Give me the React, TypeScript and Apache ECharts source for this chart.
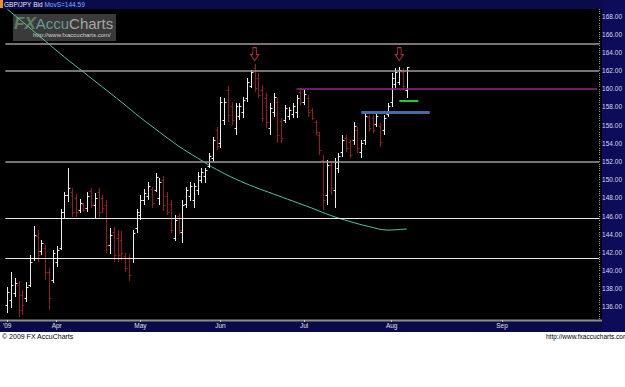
import React, { useEffect, useRef } from "react";
import * as echarts from "echarts";

const symbolName = "GBP/JPY Bid ";
const maLabel = "MovS=144.59";
const lastPrice = 162.35;
const futureDays = 50;

const opens = [136.21,136.76,137.53,138.41,137.31,136.98,138.41,141.38,143.80,142.15,
142.48,139.84,138.96,140.94,142.48,146.44,148.31,148.64,147.98,146.66,
147.32,146.88,148.75,147.21,148.64,147.98,147.21,142.81,144.24,143.58,
143.36,141.60,141.38,141.38,144.68,146.11,147.76,148.20,148.97,148.86,
147.98,149.96,148.20,147.32,143.58,146.00,144.24,147.32,148.20,147.76,
148.86,149.96,150.40,151.50,152.38,155.46,154.03,156.56,159.86,158.10,
155.68,157.00,157.44,158.98,160.30,162.28,161.18,159.86,158.98,155.68,
157.44,158.54,156.45,156.56,157.00,157.22,157.44,159.64,158.54,158.98,
157.66,156.34,154.91,152.16,148.31,151.61,148.86,151.28,153.04,154.58,
154.14,154.36,155.46,153.04,154.36,156.89,156.78,156.12,155.90,155.46,
157.22,158.54,160.52,160.74,161.84,159.86];

const highs = [138.19,139.84,139.18,138.85,137.86,138.74,141.71,144.90,144.46,143.36,
142.81,140.28,142.26,142.70,146.77,148.64,151.28,149.08,148.42,147.87,
147.43,148.64,149.08,148.53,149.08,148.31,147.76,144.68,144.79,144.46,
144.35,141.93,141.82,144.46,146.77,148.31,148.97,149.74,149.19,150.73,
150.18,150.40,148.64,147.76,146.11,146.33,147.76,149.19,149.74,149.63,
150.84,151.28,151.28,152.93,154.69,155.79,159.09,158.98,160.30,158.54,
158.43,158.43,159.09,161.18,162.06,162.72,161.73,160.41,159.53,158.43,
159.53,158.98,156.78,158.21,157.99,158.43,159.31,160.08,159.86,159.31,
157.88,156.56,155.24,152.71,152.16,151.94,152.38,152.93,154.91,154.91,
154.36,156.34,155.79,154.36,157.33,157.11,157.11,157.33,156.23,157.11,
158.43,161.73,162.28,162.39,162.28,162.39];

const lows = [135.33,135.88,137.09,134.89,135.11,136.54,138.19,141.05,140.94,141.71,
138.96,135.66,138.63,140.39,142.26,145.78,147.54,145.89,145.89,146.33,
146.44,146.44,146.88,145.78,145.89,146.33,141.93,141.82,140.94,140.94,
141.16,139.84,138.85,140.83,144.13,145.56,147.21,147.76,146.88,148.64,
147.21,146.55,146.11,144.13,143.25,144.02,143.03,146.88,147.65,146.88,
148.31,149.63,149.63,151.28,151.94,153.26,153.48,156.01,156.34,156.01,
154.91,156.56,156.78,158.54,160.08,159.64,158.98,156.34,155.68,154.91,
156.89,154.03,154.03,156.23,156.56,156.78,156.78,158.21,158.21,156.89,
156.56,154.91,152.71,146.66,147.21,148.31,146.88,150.73,152.49,153.04,
152.38,153.81,152.93,152.38,153.81,155.24,155.13,155.79,153.59,154.91,
156.89,158.00,160.08,160.41,159.97,158.98];

const closes = [137.64,138.41,138.63,135.66,136.21,138.19,140.94,143.91,141.71,143.03,
139.84,136.98,141.93,142.26,146.44,148.31,149.08,146.44,146.44,147.43,
146.66,148.20,147.21,147.98,146.44,146.88,142.81,143.91,141.71,141.71,
141.93,140.28,139.51,144.13,146.44,147.76,148.53,149.30,147.43,150.29,
149.74,147.21,146.44,144.46,145.56,144.46,147.21,148.86,149.30,149.30,
150.40,150.84,151.06,152.60,154.36,153.70,158.54,158.54,157.11,156.56,
158.10,158.10,158.76,160.74,161.84,160.08,159.31,156.78,156.34,157.88,
159.09,154.91,154.58,157.88,157.66,158.10,158.98,158.54,159.42,157.44,
156.78,155.24,153.26,147.76,151.61,149.08,151.94,152.60,154.36,153.48,
152.71,155.90,153.48,154.03,157.00,155.68,155.46,157.00,154.14,156.78,
158.10,161.18,161.84,162.06,160.30,162.35];

const maIndex = [0,5,10,15,20,25,30,35,40,45,50,55,60,65,70,75,80,85,90,95,100,105];
const maValues = [168.77,167.01,165.25,163.49,161.84,160.19,158.54,156.83,155.24,153.70,
152.38,151.12,150.07,149.19,148.42,147.65,146.88,146.06,145.40,144.85,144.46,144.59];

const yTickValues = [136,138,140,142,144,146,148,150,152,154,156,158,160,162,164,166,168];
const monthNames = ["Jan","Feb","Mar","Apr","May","Jun","Jul","Aug","Sep","Oct","Nov","Dec"];

const grayLevels = [165.0, 162.0, 152.0];
const whiteLevels = [145.75, 141.35];
const purpleSeg = { from: 76, to: 155, value: 160.0 };
const blueSeg = { from: 93, to: 111, value: 157.41 };
const greenSeg = { from: 103, to: 108, value: 158.67 };
const arrowIdx = [65, 103];
const arrowValue = 163.8;

const fmtDate = (d: Date) =>
  d.getUTCFullYear() + "-" + String(d.getUTCMonth() + 1).padStart(2, "0") + "-" + String(d.getUTCDate()).padStart(2, "0");

const categories: string[] = (() => {
  const out: string[] = [];
  const d = new Date(Date.UTC(2009, 2, 13));
  while (out.length < opens.length) {
    const wd = d.getUTCDay();
    if (wd !== 0 && wd !== 6) out.push(fmtDate(d));
    d.setUTCDate(d.getUTCDate() + 1);
  }
  for (let k = 0; k < futureDays; k++) {
    out.push(fmtDate(d));
    d.setUTCDate(d.getUTCDate() + 1);
  }
  return out;
})();

const minorTicks: number[] = (() => {
  const t: number[] = [];
  for (let v = 134.75; v <= 168.75; v += 0.25) t.push(+v.toFixed(2));
  return t;
})();

const FONT = "Liberation Sans, Arial, sans-serif";

const isMonthStart = (index: number) =>
  index === 0 || categories[index].slice(5, 7) !== categories[index - 1].slice(5, 7);

export default function App() {
  const ref = useRef<HTMLDivElement>(null);
  useEffect(() => {
    document.body.style.margin = "0";
    const chart = echarts.init(ref.current!, null, { renderer: "svg" });

    const ohlc = opens.map((o, i) => [i, o, highs[i], lows[i], closes[i]]);
    const ma: (number | null)[] = opens.map(() => null);
    maIndex.forEach((idx, k) => (ma[idx] = maValues[k]));

    const seg = (s: { from: number; to: number; value: number }, color: string, width: number) => [
      { coord: [s.from, s.value], lineStyle: { color, width, type: "solid" } },
      { coord: [s.to, s.value], lineStyle: { color, width, type: "solid" } },
    ];

    const option: any = {
      animation: false,
      backgroundColor: "#ffffff",
      textStyle: { fontFamily: FONT },
      grid: { left: 4, top: 9, width: 598, height: 311, containLabel: false },
      xAxis: {
        type: "category",
        data: categories,
        boundaryGap: true,
        z: 10,
        axisLine: { show: false },
        axisTick: {
          show: true,
          alignWithLabel: true,
          interval: (i: number) => isMonthStart(i),
          length: 2,
          lineStyle: { color: "#c8c8c8" },
        },
        axisLabel: {
          interval: (i: number) => isMonthStart(i),
          formatter: (v: string, i: number) => (i === 0 ? "'09" : monthNames[+v.slice(5, 7) - 1]),
          color: "#e0e0e8",
          fontSize: 6.5,
          fontFamily: FONT,
          margin: 2,
        },
        splitLine: { show: false },
      },
      yAxis: {
        type: "value",
        position: "right",
        min: 134.57,
        max: 168.77,
        z: 10,
        axisLine: { show: false },
        splitLine: { show: false },
        axisTick: {
          show: true,
          customValues: minorTicks,
          length: 1,
          lineStyle: { color: "#a8a8b8" },
        },
        axisLabel: {
          customValues: yTickValues,
          formatter: (v: number) => v.toFixed(2),
          color: "#d8d8e8",
          fontSize: 6.5,
          fontFamily: FONT,
          margin: 3,
        },
      },
      graphic: [
        { type: "rect", shape: { x: 0, y: 9, width: 602, height: 311 }, style: { fill: "#000000" } },
        { type: "rect", shape: { x: 0, y: 0, width: 625, height: 9 }, style: { fill: "#0b0b4c" } },
        { type: "rect", shape: { x: 602, y: 0, width: 23, height: 332 }, style: { fill: "#0c0c5a" } },
        { type: "rect", shape: { x: 0, y: 320, width: 602, height: 12 }, style: { fill: "#0a0a48" } },
        { type: "line", shape: { x1: 0, y1: 320.5, x2: 602, y2: 320.5 }, style: { stroke: "#8c8c8c", lineWidth: 2 } },
        { type: "rect", shape: { x: 0, y: 0, width: 3, height: 8 }, style: { fill: "#e8922e" } },
        {
          type: "text",
          x: 4,
          y: 1,
          style: {
            text: "{w|" + symbolName + "}{b|" + maLabel + "}",
            verticalAlign: "top",
            font: "6.5px " + FONT,
            rich: {
              w: { fill: "#e8e8f0", fontSize: 6.5, fontFamily: FONT },
              b: { fill: "#7fb0ff", fontSize: 6.5, fontFamily: FONT },
            },
          },
        },
        { type: "rect", shape: { x: 13, y: 14, width: 103, height: 27 }, style: { fill: "#3a3a3a" } },
        {
          type: "text",
          x: 14,
          y: 15,
          style: {
            text: "{f|FX}{a|Accu}{c|Charts}",
            verticalAlign: "top",
            rich: {
              f: { fill: "#5f805f", fontSize: 17, fontWeight: "bold", fontStyle: "italic", fontFamily: FONT },
              a: { fill: "#6c9898", fontSize: 15, fontFamily: FONT },
              c: { fill: "#a6a6a6", fontSize: 15, fontFamily: FONT },
            },
          },
        },
        {
          type: "text",
          x: 33,
          y: 32,
          style: { text: "http://www.fxaccucharts.com/", fill: "#d4d4d4", fontSize: 6, fontFamily: FONT, verticalAlign: "top" },
        },
        {
          type: "text",
          x: 2,
          y: 333,
          style: { text: "© 2009 FX AccuCharts", fill: "#000000", fontSize: 7, fontFamily: FONT, verticalAlign: "top" },
        },
        {
          type: "text",
          x: 546,
          y: 333,
          style: { text: "http://www.fxaccucharts.com", fill: "#000000", fontSize: 6.5, fontFamily: FONT, verticalAlign: "top" },
        },
      ],
      series: [
        {
          type: "line",
          data: ma,
          connectNulls: true,
          smooth: 0.4,
          symbol: "none",
          lineStyle: { color: "#52c2a8", width: 1 },
          z: 2,
          silent: true,
        },
        {
          type: "custom",
          data: ohlc,
          encode: { x: 0, y: [1, 2, 3, 4] },
          z: 3,
          renderItem: (params: any, api: any) => {
            const i = api.value(0);
            const o = api.value(1);
            const h = api.value(2);
            const l = api.value(3);
            const c = api.value(4);
            const px = api.coord([i, h]);
            const x = Math.round(px[0]) + 0.5;
            const yH = Math.round(px[1]);
            const yL = Math.round(api.coord([i, l])[1]);
            const yO = Math.round(api.coord([i, o])[1]) + 0.5;
            const yC = Math.round(api.coord([i, c])[1]) + 0.5;
            const color = c >= o ? "#ececec" : "#961c1c";
            const st = { stroke: color, lineWidth: 1 };
            return {
              type: "group",
              children: [
                { type: "line", shape: { x1: x, y1: yH, x2: x, y2: yL }, style: st },
                { type: "line", shape: { x1: x - 2, y1: yO, x2: x, y2: yO }, style: st },
                { type: "line", shape: { x1: x, y1: yC, x2: x + 2, y2: yC }, style: st },
              ],
            };
          },
          markLine: {
            silent: true,
            symbol: ["none", "none"],
            label: { show: false },
            data: [
              ...grayLevels.map((v) => ({ yAxis: v, lineStyle: { color: "#9c9c9c", width: 1.5, type: "solid" } })),
              ...whiteLevels.map((v) => ({ yAxis: v, lineStyle: { color: "#e8e8e8", width: 1.2, type: "solid" } })),
              seg(purpleSeg, "#8e2a88", 1.5),
              seg(blueSeg, "#3f6fa8", 3),
              seg(greenSeg, "#22cc22", 2),
              {
                yAxis: lastPrice,
                lineStyle: { opacity: 0, width: 0 },
                label: {
                  show: true,
                  position: "end",
                  distance: 1,
                  formatter: lastPrice.toFixed(2),
                  backgroundColor: "#ffff66",
                  color: "#000000",
                  fontSize: 6.5,
                  fontFamily: FONT,
                  padding: [1, 1, 0, 1],
                },
              },
            ],
          },
          markPoint: {
            silent: true,
            symbol: "path://M2.5,0 H6.5 V7 H9 L4.5,13 L0,7 H2.5 Z",
            symbolSize: [8, 13],
            itemStyle: { color: "rgba(0,0,0,0)", borderColor: "#b8322a", borderWidth: 1 },
            label: { show: false },
            data: arrowIdx.map((i) => ({ coord: [i, arrowValue] })),
          },
        },
      ],
    };

    chart.setOption(option);
    return () => chart.dispose();
  }, []);
  return <div ref={ref} style={{ width: 625, height: 387 }} />;
}
